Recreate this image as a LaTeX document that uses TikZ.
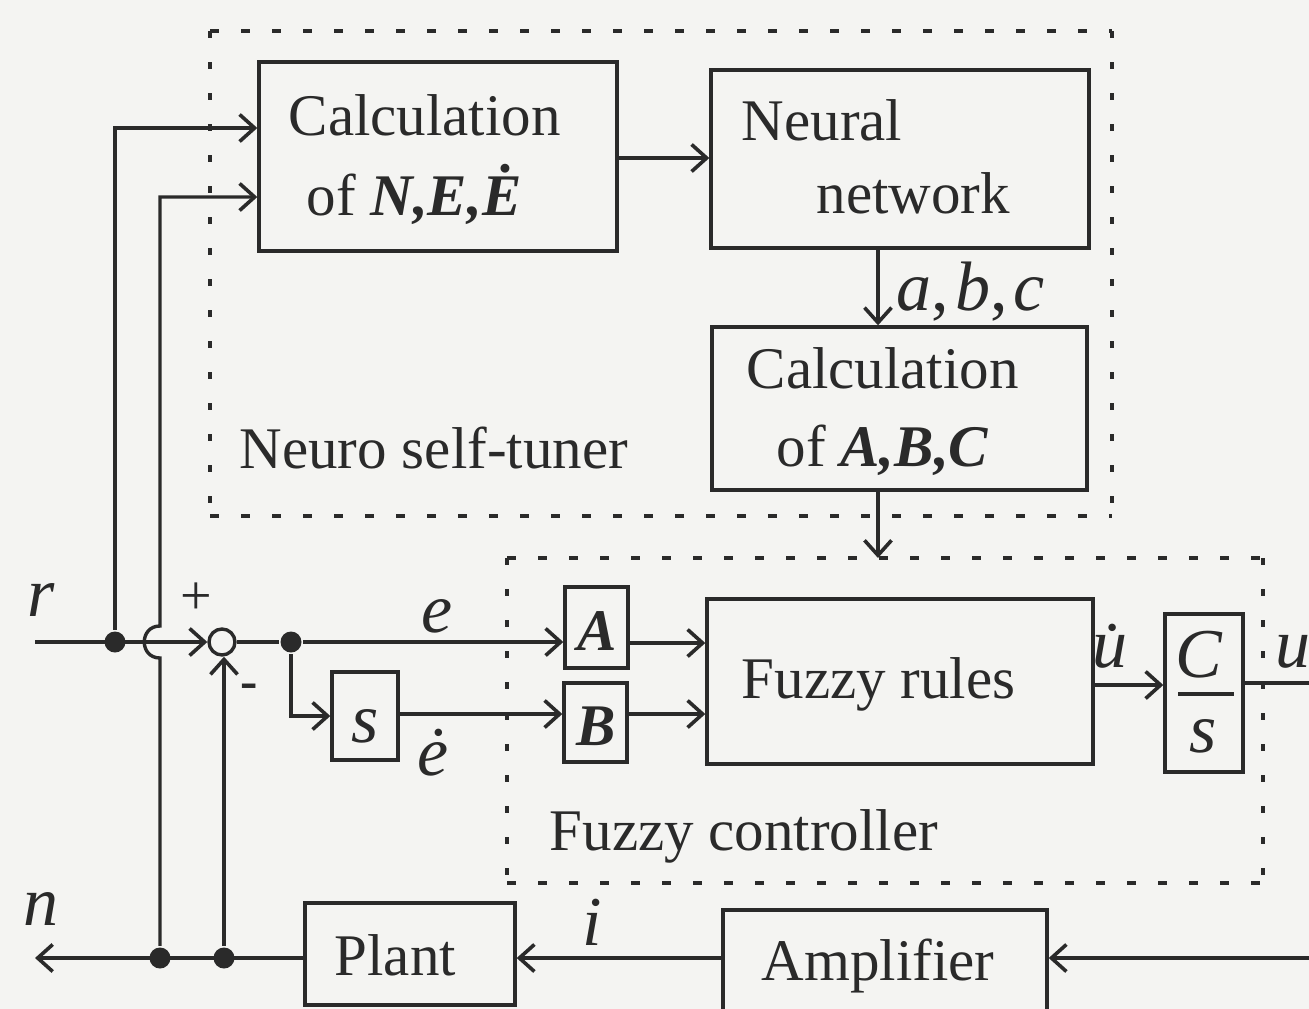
\documentclass[tikz,border=0pt]{standalone}
\usepackage{fontspec}
\setmainfont{Liberation Serif}
\usetikzlibrary{arrows.meta,calc}
\definecolor{ink}{RGB}{42,42,42}
\definecolor{bg}{RGB}{244,244,242}
\begin{document}
\begin{tikzpicture}[x=1pt,y=-1pt,line width=3.4pt,color=ink,
  font=\fontsize{59}{66}\selectfont,
  blk/.style={draw=ink,rectangle,inner sep=0pt,line width=3.4pt},
  arr/.style={-{Straight Barb[length=15pt,width=27pt,line width=3.6pt]}},
  dotn/.style={circle,fill=ink,inner sep=0pt,minimum size=21pt},
  sumn/.style={circle,draw=ink,fill=bg,inner sep=0pt,minimum size=26pt,line width=3.4pt},
  txt/.style={anchor=base west,inner sep=0pt,text=ink},
  lbl/.style={anchor=base,inner sep=0pt,text=ink},
  big/.style={font=\fontsize{70}{76}\selectfont},
  hdash/.style={line width=4pt,dash pattern=on 9pt off 22pt},
  vdash/.style={line width=4pt,dash pattern=on 7pt off 24pt}]
\fill[bg] (0,0) rectangle (1309,1009);
\useasboundingbox (0,0) rectangle (1309,1009);

% dashed frames
\draw[hdash] (210,31) -- (1112,31);
\draw[hdash] (210,516) -- (1112,516);
\draw[vdash] (210,31) -- (210,516);
\draw[vdash] (1112,31) -- (1112,516);
\draw[hdash] (507,558) -- (1263,558);
\draw[hdash] (507,883) -- (1263,883);
\draw[vdash] (507,558) -- (507,883);
\draw[vdash] (1263,558) -- (1263,883);

% blocks
\node[blk,minimum width=358pt,minimum height=189pt] (calcN) at (438,156.5) {};
\node[blk,minimum width=378pt,minimum height=178pt] (nn) at (900,159) {};
\node[blk,minimum width=375pt,minimum height=163pt] (calcA) at (899.5,408.5) {};
\node[blk,minimum width=63pt,minimum height=81pt] (boxA) at (596.5,627.5) {};
\node[blk,minimum width=63pt,minimum height=79pt] (boxB) at (595.5,722.5) {};
\node[blk,minimum width=386pt,minimum height=165pt] (fr) at (900,681.5) {};
\node[blk,minimum width=78pt,minimum height=158pt] (cs) at (1204,693) {};
\node[blk,minimum width=66pt,minimum height=88pt] (sbox) at (365,716) {};
\node[blk,minimum width=210pt,minimum height=102pt] (plant) at (410,954) {};
\node[blk,minimum width=324pt,minimum height=112pt] (amp) at (885,966) {};

% texts in blocks
\node[txt] (t1) at (287,135) {Calculation};
\node[txt] (t2) at (305,215) {of \textbf{\textit{N,E,Ė}}};
\node[txt] (t3) at (740,140) {Neural};
\node[txt] (t4) at (815,213) {network};
\node[txt] (t5) at (745,388) {Calculation};
\node[txt] (t6) at (775,466) {of \textbf{\textit{A,B,C}}};
\node[lbl] (tA) at (597,650) {\textbf{\textit{A}}};
\node[lbl] (tB) at (596,745) {\textbf{\textit{B}}};
\node[txt] (t7) at (740,698) {Fuzzy rules};
\node[lbl,big] (ts) at (365,742) {\textit{s}};
\node[lbl,big] (tC) at (1199,677) {\textit{C}};
\node[lbl,big] (tS) at (1203,752) {\textit{s}};
\coordinate (barL) at (1178,694);
\coordinate (barR) at (1234,694);
\draw[line width=3.8pt] (barL) -- (barR);
\node[txt] (t8) at (333,975) {Plant};
\node[txt] (t9) at (760,980) {Amplifier};
\node[txt] (t10) at (238,468) {Neuro self-tuner};
\node[txt] (t11) at (548,850) {Fuzzy controller};

% signal labels
\node[txt,big] (lr) at (26,616) {\textit{r}};
\node[txt,big] (ln) at (22,925) {\textit{n}};
\node[lbl,big] (le) at (437,632) {\textit{e}};
\node[lbl,big] (led) at (433,775) {\textit{ė}};
\node[lbl,big] (lud) at (1120,667) {\textit{\.{u}}};
\node[txt,big] (lu) at (1274,667) {\textit{u}};
\node[lbl,big] (li) at (592,945) {\textit{i}};
\node[txt,big] (labc) at (895,310) {\textit{a},\kern6pt\textit{b},\kern6pt\textit{c}};
\node[lbl,font=\fontsize{56}{60}\selectfont] (lplus) at (196,614) {+};
\node[lbl,font=\fontsize{52}{56}\bfseries\selectfont] (lminus) at (249,698) {-};

% junctions
\coordinate (rin) at (35,642);
\node[dotn] (j1) at (115,642) {};
\node[sumn] (sum) at (222,642) {};
\node[dotn] (j2) at (291,642) {};
\node[dotn] (fb1) at (160,958) {};
\node[dotn] (fb2) at (224,958) {};
\coordinate (nout) at (35,958);
\coordinate (uout) at (1309,683);
\coordinate (ampin) at (1309,958);
\coordinate (hopA) at (160,658);
\coordinate (hopB) at (160,626);
\coordinate (up2) at (160,197);
\coordinate (abcx) at (878,0);

% connectors
\draw[arr] (rin) -- (sum.west);
\draw[arr] (j1) |- (calcN.west |- 0,128);
\draw[arr] (fb1) -- (hopA) .. controls (139,658) and (139,626) .. (hopB) -- (up2) -- (calcN.west |- up2);
\draw[arr] (fb2) -- (fb2 |- sum.south);
\draw[arr] (sum.east) -- (j2) -- (boxA.west |- j2);
\draw[arr] (j2) |- (sbox.west);
\draw[arr] (sbox.east |- 0,714) -- (boxB.west |- 0,714);
\draw[arr] (boxA.east |- 0,643) -- (fr.west |- 0,643);
\draw[arr] (boxB.east |- 0,714) -- (fr.west |- 0,714);
\draw[arr] (fr.east |- 0,685) -- (cs.west |- 0,685);
\draw (cs.east |- 0,683) -- (uout);
\draw[arr] (calcN.east |- 0,158) -- (nn.west |- 0,158);
\draw[arr] (nn.south -| abcx) -- (calcA.north -| abcx);
\draw[arr] (calcA.south -| abcx) -- (abcx |- 0,558);
\draw[arr] (ampin) -- (amp.east |- ampin);
\draw[arr] (amp.west |- 0,958) -- (plant.east |- 0,958);
\draw[arr] (plant.west |- 0,958) -- (nout);
\end{tikzpicture}
\end{document}
